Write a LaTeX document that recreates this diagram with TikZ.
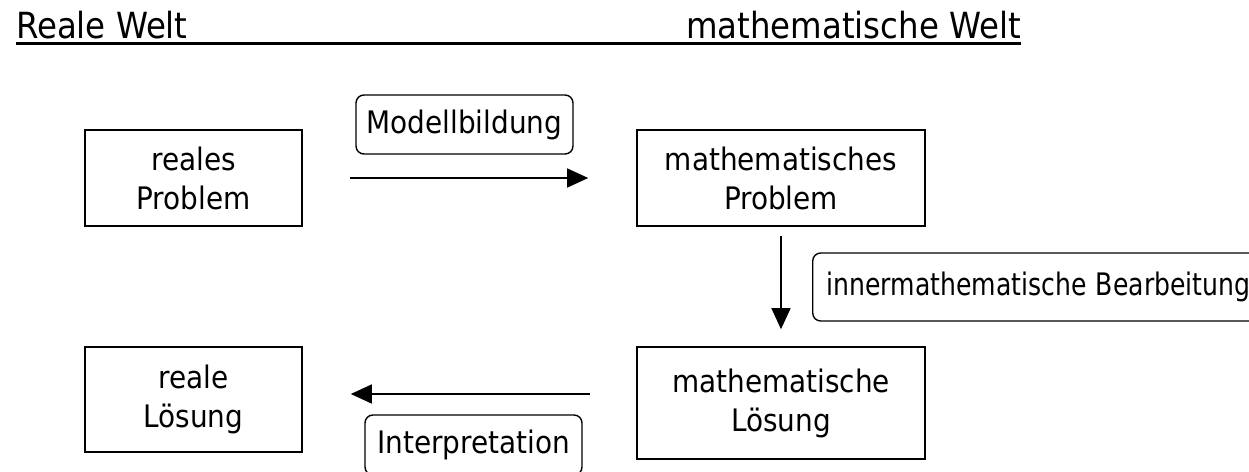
\documentclass[tikz,border=0pt]{standalone}
\usepackage{fontspec}
\setmainfont{DejaVu Sans Condensed}
\usetikzlibrary{arrows.meta}
\newcommand\diagfont{\fontsize{31}{39}\selectfont}
\newcommand\hdfont{\fontsize{36}{43}\selectfont}
\begin{document}
\begin{tikzpicture}[x=1pt,y=-1pt,
  box/.style={draw, line width=1.6pt, align=center, inner sep=0pt, font=\diagfont},
  lab/.style={draw, line width=1.4pt, rounded corners=8pt, inner sep=0pt, font=\diagfont},
  arr/.style={line width=1.5pt, -{Triangle[length=21pt,width=19pt]}},
  hd/.style={inner sep=0pt, font=\hdfont}]
\useasboundingbox (0,0) rectangle (1249,471);
\clip (0,0) rectangle (1249,471);
% titles
\node[hd, anchor=base west] (rw) at (16,38) {Reale Welt};
\node[hd, anchor=base east] (mw) at (1021,38) {mathematische Welt};
\draw[line width=3pt] ([yshift=-5pt]rw.base west) -- ([yshift=-5pt]mw.base east);
% boxes
\node[box, minimum width=217pt, minimum height=96pt] (rP) at (193.5,178) {reales\\Problem};
\node[box, minimum width=288pt, minimum height=96pt] (mP) at (781,178) {mathematisches\\Problem};
\node[box, minimum width=288pt, minimum height=112pt] (mL) at (781,403) {mathematische\\Lösung};
\node[box, minimum width=217pt, minimum height=105pt] (rL) at (193.5,399.5) {reale\\Lösung};
% labels
\node[lab, minimum width=217pt, minimum height=59pt] (mb) at (464.5,124.5) {Modellbildung};
\node[lab, minimum width=217pt, minimum height=60pt] (ip) at (473.5,445) {Interpretation};
\node[lab, anchor=west, minimum height=68pt, text width=480pt, align=left, inner xsep=14pt] (ib) at (812,287) {\scalebox{0.9}[1]{innermathematische Bearbeitung}};
% arrows
\draw[arr, shorten <=47pt, shorten >=48pt] (rP.east) -- (mP.west);
\draw[arr, shorten <=9pt, shorten >=17pt] (mP.south) -- (mL.north);
\draw[arr, shorten <=46pt, shorten >=48pt] ([yshift=9pt]mL.west) -- ([yshift=5.5pt]rL.east);
\end{tikzpicture}
\end{document}
